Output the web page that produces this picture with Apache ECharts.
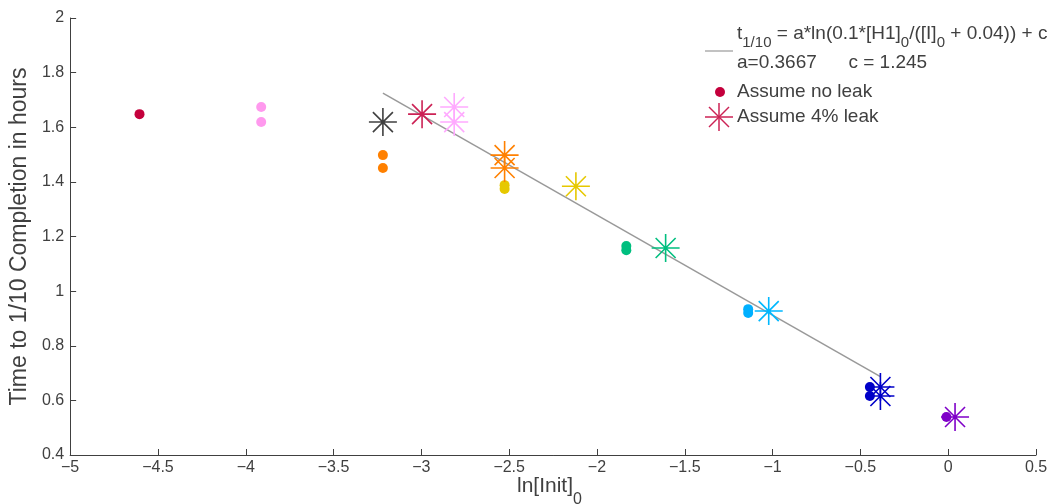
<!DOCTYPE html>
<html>
<head>
<meta charset="utf-8">
<script src="https://cdn.jsdelivr.net/npm/echarts@6/dist/echarts.min.js"></script>
<style>
  html, body { margin: 0; padding: 0; background: #fff; }
  #main { width: 1054px; height: 504px; }
</style>
</head>
<body>
<div id="main"></div>
<script>
// x = ln of initial concentration, y = time to 1/10 completion (hours)
var noLeakX = [-4.605, -3.912, -3.912, -3.219, -3.219, -2.526, -2.526, -1.833, -1.833, -1.139, -1.139, -0.446, -0.446, -0.01];
var noLeakY = [1.648, 1.674, 1.619, 1.498, 1.451, 1.388, 1.374, 1.165, 1.150, 0.934, 0.920, 0.649, 0.616, 0.539];
var noLeakColors = ['#c4003c', '#ff99ee', '#ff99ee', '#ff8000', '#ff8000', '#e6c800', '#e6c800', '#00bf7f', '#00bf7f',
  '#00b0ff', '#00b0ff', '#0000c8', '#0000c8', '#7f00c8'];

var leakX = [-3.219, -2.996, -2.813, -2.813, -2.526, -2.526, -2.120, -1.609, -1.022, -0.386, -0.386, 0.039];
var leakY = [1.619, 1.648, 1.674, 1.619, 1.498, 1.451, 1.384, 1.158, 0.927, 0.649, 0.616, 0.539];
var leakColors = ['#404040', '#cc2255', '#ffaaff', '#ffaaff', '#ff8000', '#ff8000', '#e6c800', '#00bf7f',
  '#00b8ff', '#0000c8', '#0000c8', '#7f00c8'];

var fitX = [-3.219, -0.386];
var fitY = [1.725, 0.687];

var xTicks = [-5, -4.5, -4, -3.5, -3, -2.5, -2, -1.5, -1, -0.5, 0, 0.5];

var star = 'path://M0,14L28,14M14,0L14,28M4,4L24,24M24,4L4,24';
var font = "'Liberation Sans', Arial, sans-serif";
var axisColor = '#404040';

// legend star made of line pieces
function legendStar(cx, cy, color) {
  var segs = [[-14, 0, 14, 0], [0, -14, 0, 14], [-10, -10, 10, 10], [10, -10, -10, 10]];
  return segs.map(function (s) {
    return { type: 'line', shape: { x1: cx + s[0], y1: cy + s[1], x2: cx + s[2], y2: cy + s[3] },
      style: { stroke: color, lineWidth: 1.5 } };
  });
}

var chart = echarts.init(document.getElementById('main'));

chart.setOption({
  animation: false,
  textStyle: { fontFamily: font },
  grid: { left: 68, right: 18, top: 18, bottom: 49 },
  xAxis: {
    type: 'value', min: -5, max: 0.5, interval: 0.5,
    axisLine: { onZero: false, lineStyle: { color: axisColor, width: 1 } },
    axisTick: { inside: true, length: 6, lineStyle: { color: axisColor } },
    axisLabel: {
      color: axisColor, fontSize: 16, margin: 5,
      formatter: function (v) {
        if (xTicks.indexOf(v) < 0) return '';
        return String(v).replace('-', '\u2212');
      }
    },
    splitLine: { show: false }
  },
  yAxis: {
    type: 'value', min: 0.4, max: 2, interval: 0.2,
    axisLine: { show: true, onZero: false, lineStyle: { color: axisColor, width: 1 } },
    axisTick: { show: true, inside: true, length: 6, lineStyle: { color: axisColor } },
    axisLabel: {
      color: axisColor, fontSize: 16, margin: 6,
      formatter: function (v) { return String(Math.round(v * 10) / 10); }
    },
    splitLine: { show: false },
    name: 'Time to 1/10 Completion in hours',
    nameLocation: 'middle', nameGap: 33,
    nameTextStyle: { color: axisColor, fontSize: 23 }
  },
  graphic: [
    {
      type: 'text', x: 517, y: 476,
      style: {
        text: '{a|ln[Init]}{s|0}',
        rich: {
          a: { fontSize: 21, fill: axisColor, fontFamily: font, verticalAlign: 'top', lineHeight: 22 },
          s: { fontSize: 16, fill: axisColor, fontFamily: font, verticalAlign: 'bottom', lineHeight: 32 }
        }
      }
    },
    { type: 'line', shape: { x1: 705, y1: 51, x2: 733, y2: 51 }, style: { stroke: '#999', lineWidth: 1.2 } },
    {
      type: 'text', x: 737, y: 24,
      style: {
        text: '{a|t}{s|1/10}{a| = a*ln(0.1*[H1]}{s|0}{a|/([I]}{s|0}{a| + 0.04)) + c}',
        rich: {
          a: { fontSize: 19, fill: axisColor, fontFamily: font, verticalAlign: 'top', lineHeight: 21 },
          s: { fontSize: 15, fill: axisColor, fontFamily: font, verticalAlign: 'bottom', lineHeight: 26 }
        }
      }
    },
    { type: 'text', x: 737, y: 53, style: { text: 'a=0.3667      c = 1.245', fontSize: 19, fill: axisColor, fontFamily: font } },
    { type: 'circle', shape: { cx: 720, cy: 92, r: 5 }, style: { fill: '#c4003c' } },
    { type: 'text', x: 737, y: 82, style: { text: 'Assume no leak', fontSize: 19, fill: axisColor, fontFamily: font } },
    { type: 'text', x: 737, y: 107, style: { text: 'Assume 4% leak', fontSize: 19, fill: axisColor, fontFamily: font } }
  ].concat(legendStar(719, 117, '#cc2255')),
  series: [
    {
      name: 'fit', type: 'line', symbol: 'none',
      data: fitX.map(function (x, i) { return [x, fitY[i]]; }),
      lineStyle: { color: '#999', width: 1.5 }, z: 1
    },
    {
      name: 'Assume no leak', type: 'scatter', symbol: 'circle', symbolSize: 10,
      data: noLeakX.map(function (x, i) {
        return { value: [x, noLeakY[i]], itemStyle: { color: noLeakColors[i], opacity: 1 } };
      }),
      z: 2
    },
    {
      name: 'Assume 4% leak', type: 'scatter', symbol: star, symbolSize: 28,
      data: leakX.map(function (x, i) {
        return { value: [x, leakY[i]], itemStyle: { color: 'none', borderColor: leakColors[i], borderWidth: 1.6, opacity: 1 } };
      }),
      z: 3
    }
  ]
});
</script>
</body>
</html>
